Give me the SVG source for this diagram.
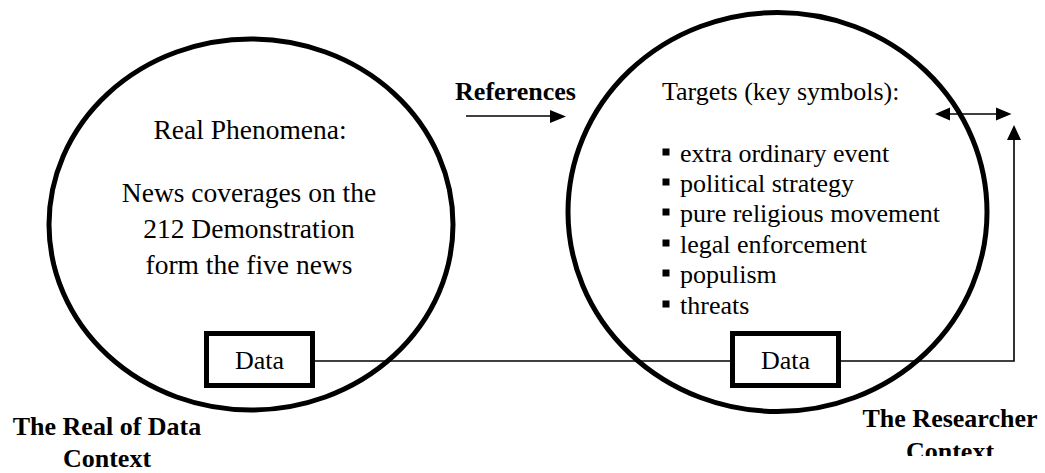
<svg xmlns="http://www.w3.org/2000/svg" width="1045" height="473" viewBox="0 0 1045 473">
<style>
.circ{fill:none;stroke:#000;stroke-width:5}
.box{fill:#fff;stroke:#000;stroke-width:5}
.ln{fill:none;stroke:#000;stroke-width:1.6}
.t{font-family:"Liberation Serif","Times New Roman",serif;font-size:26px;fill:#000}
.b{font-family:"Liberation Serif","Times New Roman",serif;font-size:26px;font-weight:bold;fill:#000}
.c{font-family:"Liberation Serif","Times New Roman",serif;font-size:27.5px;fill:#000}
</style>
<defs>
<clipPath id="clipBottom"><rect x="0" y="0" width="1045" height="456"/></clipPath>
</defs>
<rect width="1045" height="473" fill="#fff"/>
<g id="real-data-context">
<ellipse class="circ" cx="251" cy="224.5" rx="202" ry="185.5"/>
<text class="c" x="250" y="139" text-anchor="middle">Real Phenomena:</text>
<text class="c" x="249" y="202" text-anchor="middle">News coverages on the</text>
<text class="c" x="249" y="238" text-anchor="middle">212 Demonstration</text>
<text class="c" x="249" y="274" text-anchor="middle">form the five news</text>
</g>
<g id="researcher-context">
<ellipse class="circ" cx="777.5" cy="212" rx="209.5" ry="199.5"/>
<text class="t" x="662" y="100">Targets (key symbols):</text>
<g id="targets-list">
<rect x="662.5" y="148.5" width="7" height="7"/>
<text class="t" x="680" y="162">extra ordinary event</text>
<rect x="662.5" y="178.5" width="7" height="7"/>
<text class="t" x="680" y="192">political strategy</text>
<rect x="662.5" y="208.5" width="7" height="7"/>
<text class="t" x="680" y="222">pure religious movement</text>
<rect x="662.5" y="239.5" width="7" height="7"/>
<text class="t" x="680" y="253">legal enforcement</text>
<rect x="662.5" y="269.5" width="7" height="7"/>
<text class="t" x="680" y="283">populism</text>
<rect x="662.5" y="300.5" width="7" height="7"/>
<text class="t" x="680" y="314">threats</text>
</g>
</g>
<g id="connectors">
<line class="ln" x1="315" y1="361" x2="730" y2="361"/>
<polyline class="ln" points="841,361 1014,361 1014,138"/>
<polygon points="1007,140 1021,140 1014,125"/>
<line class="ln" x1="466" y1="116" x2="552" y2="116"/>
<polygon points="550,110 566,116.5 550,123"/>
<line class="ln" x1="948" y1="114" x2="998" y2="114"/>
<polygon points="950,107.5 935,114 950,120.5"/>
<polygon points="996,107.5 1011.5,114 996,120.5"/>
</g>
<g id="data-left">
<rect class="box" x="206.5" y="333.5" width="106" height="52"/>
<text class="t" x="259.5" y="369" text-anchor="middle">Data</text>
</g>
<g id="data-right">
<rect class="box" x="732.5" y="333.5" width="106" height="52"/>
<text class="t" x="785.5" y="369" text-anchor="middle">Data</text>
</g>
<g id="label-references">
<text class="b" x="515.5" y="100" text-anchor="middle">References</text>
</g>
<g id="label-real-data">
<text class="b" x="107" y="435" text-anchor="middle">The Real of Data</text>
<text class="b" x="107" y="467" text-anchor="middle">Context</text>
</g>
<g id="label-researcher" clip-path="url(#clipBottom)">
<text class="b" x="950" y="427" text-anchor="middle">The Researcher</text>
<text class="b" x="950" y="460" text-anchor="middle">Context</text>
</g>
</svg>
